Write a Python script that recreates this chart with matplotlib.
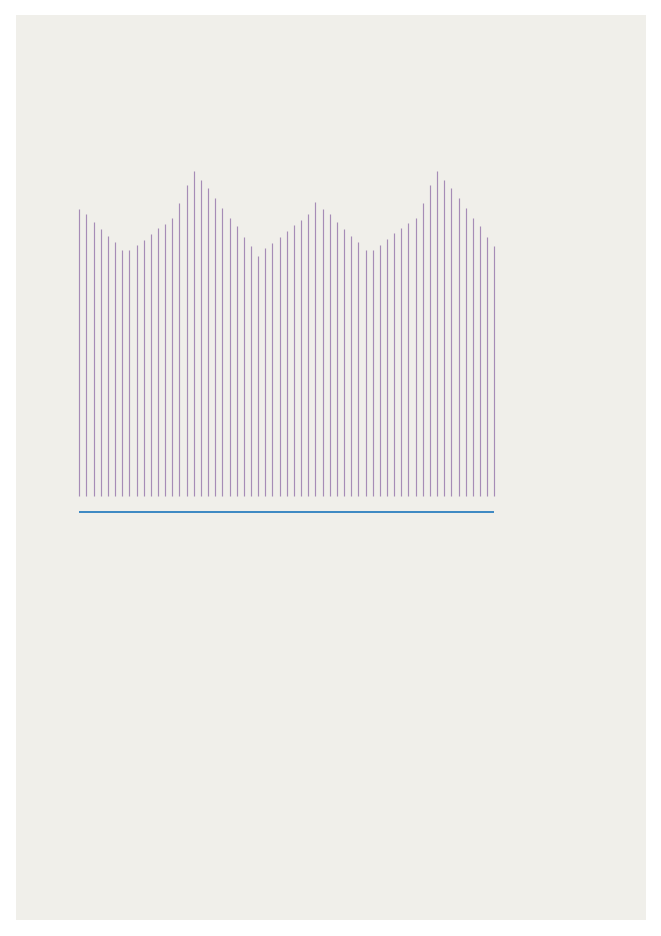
import numpy as np
import matplotlib
matplotlib.use('Agg')
import matplotlib.pyplot as plt

## data: bar heights (px units, baseline = 0)
tops = [210, 215.3, 223, 230, 237, 243.3, 251, 251.3, 246.3, 240.7,
        234.7, 228.7, 224.7, 219, 204, 186, 171.7, 181, 189, 198.7,
        208.7, 219, 227.3, 238.3, 246.7, 257, 249, 244, 237.7, 231.7,
        225.7, 220.7, 215.3, 203, 209.7, 215.3, 222.7, 229.7, 237, 243,
        251, 251, 246, 240.3, 234.3, 228.7, 224.3, 218.7, 203.7, 185.7,
        171.7, 181, 188.7, 198.7, 208.7, 219, 227.3, 238.3, 246.7]
values = [497 - t for t in tops]
idx = np.arange(len(values))

W, H = 661, 937
fig = plt.figure(figsize=(W / 100, H / 100), dpi=100)
fig.patch.set_facecolor('white')

# beige panel as a background axes
bg = fig.add_axes([16 / W, 1 - 921 / H, 630 / W, 905 / H], zorder=-1)
bg.set_facecolor('#f0efea')
bg.set_xticks([])
bg.set_yticks([])
for s in bg.spines.values():
    s.set_visible(False)

# axes: x index 0..58 -> 79.3..494.3 px, y -20..330 -> 517..167 px
x0, x1 = 79.3, 494.3
step = (x1 - x0) / (len(values) - 1)
ax = fig.add_axes([(x0 - step / 2) / W, 1 - 517 / H, (x1 - x0 + step) / W, 350 / H])
ax.set_xlim(-0.5, len(values) - 0.5)
ax.set_ylim(-20, 330)
ax.axis('off')

ax.vlines(idx, 0, values, color='#a68cb6', linewidth=0.85)
ax.hlines(-16, idx[0] - 0.1, idx[-1], color='#0b6cb8', linewidth=1.1)

fig.savefig('out.png', dpi=100)
